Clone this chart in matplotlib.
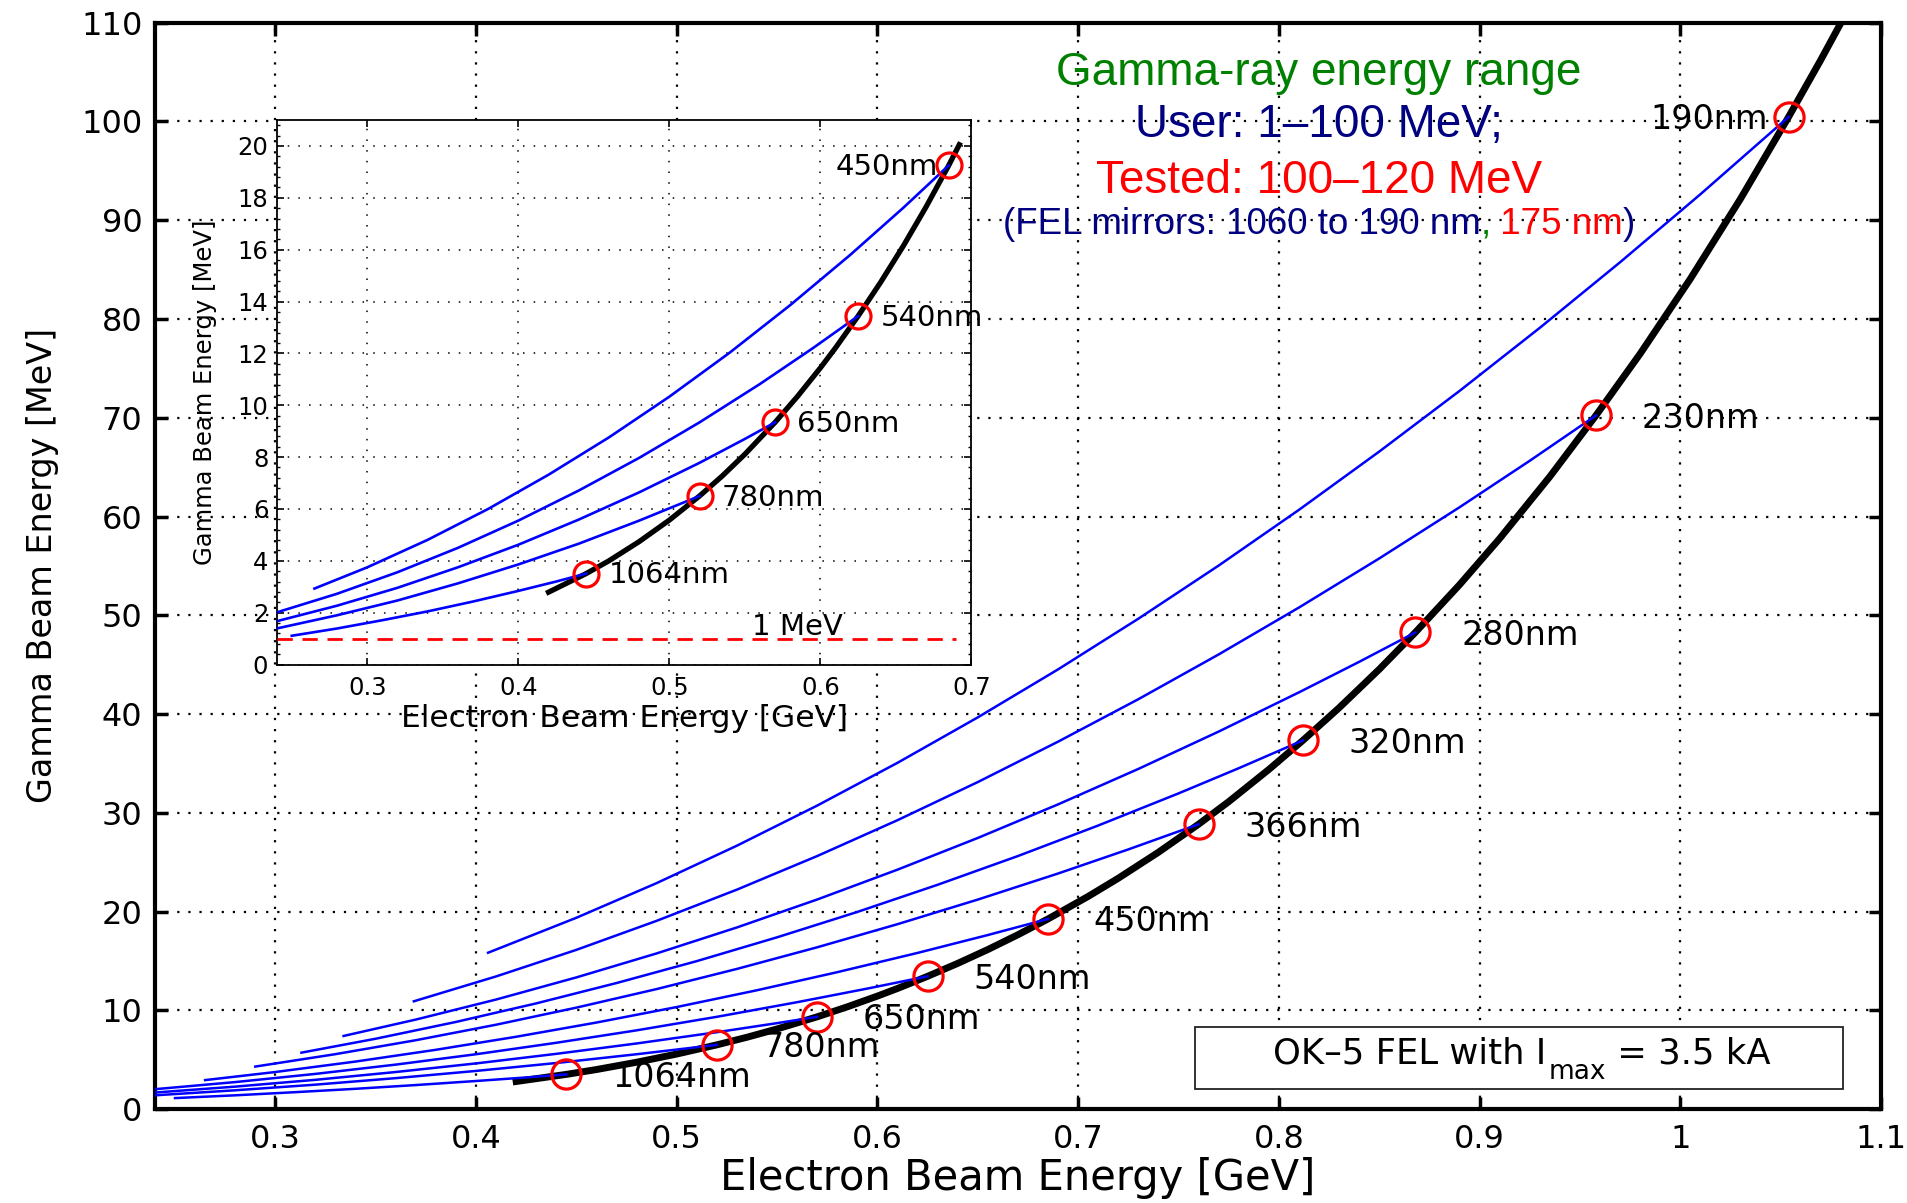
import matplotlib
import matplotlib.pyplot as plt
from matplotlib.offsetbox import AnnotationBbox, HPacker, TextArea
from matplotlib.patches import Rectangle
from matplotlib.ticker import AutoMinorLocator

matplotlib.use("Agg")

plt.rcParams["font.family"] = ["DejaVu Sans"]

# Compton gamma energy [MeV] vs electron energy [GeV], one curve per FEL wavelength
wavelengths = ["1064nm", "780nm", "650nm", "540nm", "450nm",
               "366nm", "320nm", "280nm", "230nm", "190nm"]
curve_x = [
    [0.25, 0.28, 0.31, 0.34, 0.37, 0.40, 0.425, 0.445],
    [0.24, 0.28, 0.32, 0.36, 0.40, 0.44, 0.48, 0.52],
    [0.24, 0.28, 0.32, 0.36, 0.40, 0.44, 0.48, 0.52, 0.55, 0.57],
    [0.24, 0.28, 0.32, 0.36, 0.40, 0.44, 0.48, 0.52, 0.56, 0.595, 0.625],
    [0.265, 0.30, 0.34, 0.38, 0.42, 0.46, 0.50, 0.54, 0.58, 0.62, 0.655, 0.685],
    [0.29, 0.33, 0.37, 0.41, 0.45, 0.49, 0.53, 0.57, 0.61, 0.65, 0.69, 0.725, 0.76],
    [0.313, 0.35, 0.39, 0.43, 0.47, 0.51, 0.55, 0.59, 0.63, 0.67, 0.71, 0.75,
     0.78, 0.812],
    [0.334, 0.37, 0.41, 0.45, 0.49, 0.53, 0.57, 0.61, 0.65, 0.69, 0.73, 0.77,
     0.81, 0.84, 0.868],
    [0.369, 0.41, 0.45, 0.49, 0.53, 0.57, 0.61, 0.65, 0.69, 0.73, 0.77, 0.81,
     0.85, 0.89, 0.925, 0.958],
    [0.406, 0.45, 0.49, 0.53, 0.57, 0.61, 0.65, 0.69, 0.73, 0.77, 0.81, 0.85,
     0.89, 0.93, 0.97, 1.01, 1.054],
]
curve_y = [
    [1.11, 1.39, 1.71, 2.05, 2.43, 2.84, 3.20, 3.51],
    [1.39, 1.90, 2.47, 3.13, 3.86, 4.66, 5.55, 6.50],
    [1.67, 2.27, 2.96, 3.75, 4.62, 5.59, 6.64, 7.78, 8.70, 9.34],
    [2.01, 2.73, 3.56, 4.50, 5.55, 6.71, 7.97, 9.34, 10.82, 12.20, 13.44],
    [2.93, 3.75, 4.81, 6.00, 7.32, 8.76, 10.33, 12.03, 13.86, 15.81, 17.62, 19.25],
    [4.30, 5.56, 6.97, 8.54, 10.27, 12.15, 14.19, 16.38, 18.72, 21.21, 23.85,
     26.29, 28.84],
    [5.71, 7.12, 8.82, 10.70, 12.76, 14.98, 17.39, 19.96, 22.71, 25.62, 28.71,
     31.96, 34.51, 37.33],
    [7.40, 9.06, 11.09, 13.33, 15.76, 18.39, 21.22, 24.24, 27.45, 30.85, 34.44,
     38.22, 42.19, 45.28, 48.26],
    [10.91, 13.43, 16.12, 19.06, 22.22, 25.62, 29.25, 33.11, 37.20, 41.50, 46.03,
     50.78, 55.75, 60.93, 65.64, 70.23],
    [15.83, 19.37, 22.88, 26.67, 30.73, 35.06, 39.66, 44.52, 49.65, 55.03, 60.67,
     66.57, 72.71, 79.10, 85.74, 92.62, 100.46],
]

# FEL operating points (red circles) and the I_max = 3.5 kA limit curve
point_x = [0.445, 0.52, 0.57, 0.625, 0.685, 0.76, 0.812, 0.868, 0.958, 1.054]
point_y = [3.51, 6.50, 9.34, 13.44, 19.25, 28.84, 37.33, 48.26, 70.23, 100.46]
limit_x = [0.42, 0.445, 0.46, 0.48, 0.50, 0.52, 0.535, 0.55, 0.57, 0.585, 0.60,
           0.61, 0.625, 0.64, 0.655, 0.67, 0.685, 0.705, 0.72, 0.74, 0.76, 0.775,
           0.795, 0.812, 0.83, 0.85, 0.868, 0.89, 0.91, 0.935, 0.958, 0.98, 1.005,
           1.03, 1.054, 1.07, 1.085]
limit_y = [2.79, 3.51, 4.00, 4.74, 5.57, 6.50, 7.27, 8.11, 9.34, 10.35, 11.44,
           12.21, 13.44, 14.75, 16.15, 17.65, 19.25, 21.53, 23.37, 26.00, 28.84,
           31.12, 34.38, 37.33, 40.62, 44.52, 48.26, 53.08, 57.76, 64.03, 70.23,
           76.47, 84.05, 92.16, 100.46, 106.22, 111.83]

# inset: the five longest wavelengths, limit curve up to ~20 MeV
inset_n = 5
inset_limit_x = [0.42, 0.445, 0.46, 0.48, 0.50, 0.52, 0.535, 0.55, 0.57, 0.585,
                 0.60, 0.61, 0.625, 0.64, 0.655, 0.67, 0.685, 0.692]
inset_limit_y = [2.79, 3.51, 4.00, 4.74, 5.57, 6.50, 7.27, 8.11, 9.34, 10.35,
                 11.44, 12.21, 13.44, 14.75, 16.15, 17.65, 19.25, 20.05]
one_mev_x = [0.24, 0.69]
one_mev_y = [1.0, 1.0]

main_xticks = [0.3, 0.4, 0.5, 0.6, 0.7, 0.8, 0.9, 1.0, 1.1]
main_xticklabels = ["0.3", "0.4", "0.5", "0.6", "0.7", "0.8", "0.9", "1", "1.1"]
main_yticks = [0, 10, 20, 30, 40, 50, 60, 70, 80, 90, 100, 110]
inset_xticks = [0.3, 0.4, 0.5, 0.6, 0.7]
inset_yticks = [0, 2, 4, 6, 8, 10, 12, 14, 16, 18, 20]

BLUE = "#0000ff"
RED = "#ff0000"
NAVY = "#000080"
GREEN = "#008000"
TITLE_FONT = "Liberation Sans"

fig = plt.figure(figsize=(19.08, 12.03), dpi=100)

# ---- main axes ----
ax = fig.add_axes([0.0812, 0.0781, 0.9046, 0.9030])
ax.plot(limit_x, limit_y, color="black", lw=5, zorder=3)
for xs, ys in zip(curve_x, curve_y):
    ax.plot(xs, ys, color=BLUE, lw=1.8, zorder=4)
ax.plot(point_x, point_y, "o", ms=21, mfc="none", mec=RED, mew=2.3, zorder=5)
for name, px, py in zip(wavelengths, point_x, point_y):
    if name == "190nm":
        off, ha = (-15, -9), "right"
    else:
        off, ha = (33, -9), "left"
    ax.annotate(name, (px, py), xytext=off, textcoords="offset points",
                ha=ha, va="baseline", fontsize=24, zorder=6)

ax.set_xlim(0.24, 1.1)
ax.set_ylim(0, 110)
ax.set_xticks(main_xticks)
ax.set_xticklabels(main_xticklabels)
ax.set_yticks(main_yticks)
ax.tick_params(direction="in", length=9, width=2.5, top=True, right=True, labelsize=23)
ax.tick_params(axis="x", pad=11)
ax.tick_params(axis="y", pad=9)
for s in ax.spines.values():
    s.set_linewidth(3)
ax.set_axisbelow(True)
ax.grid(True, color="black", linestyle=(0, (1, 4)), linewidth=1.6)
ax.set_xlabel("Electron Beam Energy [GeV]", fontsize=30, labelpad=1)
ax.set_ylabel("Gamma Beam Energy [MeV]", fontsize=24, labelpad=16)

# gamma-ray range note
ax.text(0.82, 103.7, "Gamma-ray energy range", color=GREEN, fontsize=33,
        family=TITLE_FONT, ha="center", va="baseline")
ax.text(0.82, 98.4, "User: 1\u2013100 MeV;", color=NAVY, fontsize=33,
        family=TITLE_FONT, ha="center", va="baseline")
ax.text(0.82, 92.8, "Tested: 100\u2013120 MeV", color=RED, fontsize=33,
        family=TITLE_FONT, ha="center", va="baseline")
parts = [("(FEL mirrors: 1060 to 190 nm", NAVY), (",", GREEN),
         (" 175 nm", RED), (")", NAVY)]
boxes = [TextArea(s, textprops=dict(color=c, fontsize=26.5, family=TITLE_FONT))
         for s, c in parts]
pack = HPacker(children=boxes, align="baseline", pad=0, sep=0)
ax.add_artist(AnnotationBbox(pack, (0.82, 89.6), frameon=False,
                             box_alignment=(0.5, 0.5), pad=0))

# OK-5 box
ax.add_patch(Rectangle((0.758, 2.03), 0.323, 6.27, facecolor="white",
                       edgecolor="#222222", lw=1.3, zorder=2))
t1 = ax.text(0.797, 4.66, "OK\u20135 FEL with I", fontsize=25.5, ha="left",
             va="baseline", zorder=3)
t2 = ax.annotate("max", xy=(1, 0), xycoords=t1, xytext=(2, -11),
                 textcoords="offset points", fontsize=19, ha="left",
                 va="bottom", zorder=3)
ax.annotate(" = 3.5 kA", xy=(1, 0), xycoords=(t2, t1), fontsize=25.5,
            ha="left", va="bottom", zorder=3)

# ---- inset ----
ins = fig.add_axes([0.1450, 0.4476, 0.3641, 0.4526])
ins.plot(inset_limit_x, inset_limit_y, color="black", lw=3.8, zorder=3)
for xs, ys in zip(curve_x[:inset_n], curve_y[:inset_n]):
    ins.plot(xs, ys, color=BLUE, lw=1.9, zorder=4)
ins.plot(one_mev_x, one_mev_y, color=RED, lw=2, dashes=(5.5, 3.5), zorder=4)
ins.text(0.555, 1.15, "1 MeV", fontsize=21, ha="left", va="baseline")
ins.plot(point_x[:inset_n], point_y[:inset_n], "o", ms=18, mfc="none",
         mec=RED, mew=2.3, zorder=5)
for name, px, py in zip(wavelengths[:inset_n], point_x[:inset_n], point_y[:inset_n]):
    if name == "450nm":
        off, ha = (-8, -7), "right"
    else:
        off, ha = (16, -7), "left"
    ins.annotate(name, (px, py), xytext=off, textcoords="offset points",
                 ha=ha, va="baseline", fontsize=21, zorder=6)

ins.set_xlim(0.24, 0.7)
ins.set_ylim(0, 21)
ins.set_xticks(inset_xticks)
ins.set_yticks(inset_yticks)
ins.yaxis.set_minor_locator(AutoMinorLocator(5))
ins.tick_params(direction="in", length=5, width=1.2, top=True, right=True, labelsize=17.5)
ins.tick_params(which="minor", direction="in", length=2.5, width=1, right=True)
ins.tick_params(axis="x", pad=8)
ins.tick_params(axis="y", pad=6)
for s in ins.spines.values():
    s.set_linewidth(1.3)
ins.set_axisbelow(True)
ins.grid(True, color="black", linestyle=(0, (1, 6)), linewidth=1.1)
ins.set_xlabel("Electron Beam Energy [GeV]", fontsize=22.5, labelpad=3)
ins.set_ylabel("Gamma Beam Energy [MeV]", fontsize=17.5, labelpad=15)

fig.savefig("out.png", dpi=100)
